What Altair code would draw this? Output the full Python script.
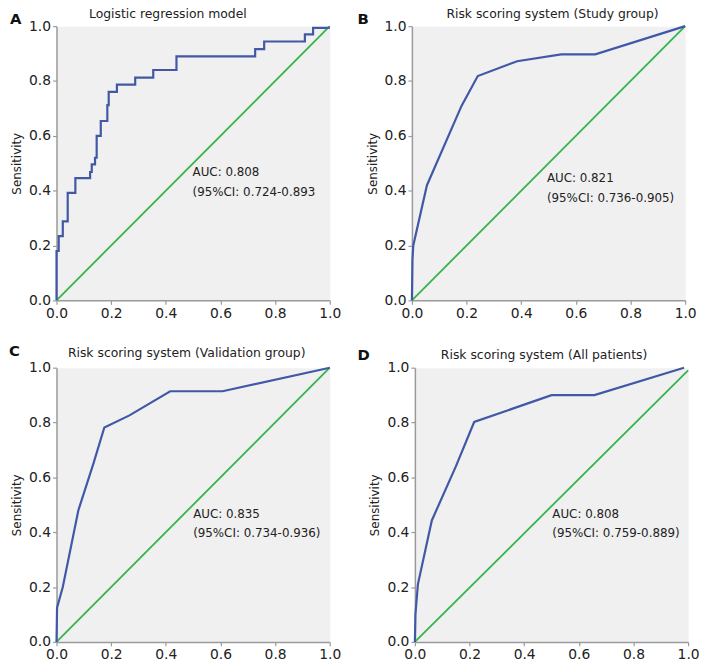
import altair as alt
import pandas as pd

# ---- data ----
a_fpr = [0.0, 0.0, 0.008, 0.023, 0.041, 0.069, 0.123, 0.129, 0.141, 0.147, 0.162, 0.186, 0.191,
         0.221, 0.288, 0.354, 0.439, 0.727, 0.760, 0.909, 0.939, 1.0]
a_tpr = [0.0, 0.180, 0.234, 0.288, 0.392, 0.446, 0.468, 0.496, 0.520, 0.600, 0.654, 0.712, 0.760,
         0.787, 0.812, 0.840, 0.890, 0.916, 0.944, 0.970, 0.994, 0.994]

b_fpr = [0.0, 0.002, 0.005, 0.055, 0.182, 0.241, 0.385, 0.546, 0.671, 1.0]
b_tpr = [0.0, 0.150, 0.200, 0.420, 0.710, 0.818, 0.872, 0.897, 0.897, 1.0]

c_fpr = [0.0, 0.002, 0.023, 0.080, 0.135, 0.175, 0.267, 0.416, 0.608, 1.0]
c_tpr = [0.0, 0.125, 0.200, 0.480, 0.650, 0.782, 0.826, 0.914, 0.914, 1.0]

d_fpr = [0.0, 0.002, 0.011, 0.062, 0.150, 0.217, 0.500, 0.657, 0.985]
d_tpr = [0.0, 0.100, 0.210, 0.443, 0.640, 0.802, 0.900, 0.900, 1.0]

diag_x = [0.0, 1.0]
diag_y = [0.0, 1.0]
diag_y_d = [0.0, 0.99]

titles = ["Logistic regression model", "Risk scoring system (Study group)",
          "Risk scoring system (Validation group)", "Risk scoring system (All patients)"]
letters = ["A", "B", "C", "D"]
auc_line1 = ["AUC: 0.808", "AUC: 0.821", "AUC: 0.835", "AUC: 0.808"]
auc_line2 = ["(95%CI: 0.724-0.893", "(95%CI: 0.736-0.905)", "(95%CI: 0.734-0.936)",
             "(95%CI: 0.759-0.889)"]
ticks = [0.0, 0.2, 0.4, 0.6, 0.8, 1.0]

BLUE = "#4058a6"
GREEN = "#34b44a"
FONT = "DejaVu Sans"
W = 276
H = 277


def panel(fpr, tpr, dx_, dy_, title, tcx, tcy, letter, lx, ly, l1, l2, tx, ty1, ty2, interp):
    roc = pd.DataFrame({"fpr": fpr, "tpr": tpr})
    diag = pd.DataFrame({"fpr": dx_, "tpr": dy_})
    xs = alt.Scale(domain=[0, 1], nice=False)
    ys = alt.Scale(domain=[0, 1], nice=False)
    xenc = alt.X("fpr:Q", scale=xs, axis=alt.Axis(values=ticks, format=".1f", title=None))
    yenc = alt.Y("tpr:Q", scale=ys, axis=alt.Axis(values=ticks, format=".1f", title="Sensitivity"))
    d_layer = alt.Chart(diag).mark_line(color=GREEN, strokeWidth=1.8).encode(x=xenc, y=yenc)
    r_layer = alt.Chart(roc).mark_line(color=BLUE, strokeWidth=2.2, interpolate=interp).encode(
        x=xenc, y=yenc, order=alt.Order("fpr:Q"))
    lab = pd.DataFrame({"t": [letter]})
    let_layer = alt.Chart(lab).mark_text(font=FONT, fontSize=15, fontWeight="bold", color="#111",
                                         align="left", baseline="middle").encode(
        x=alt.value(lx), y=alt.value(ly), text="t:N")
    ttl = pd.DataFrame({"t": [title]})
    ttl_layer = alt.Chart(ttl).mark_text(font=FONT, fontSize=12.5, color="#222", align="center",
                                         baseline="middle").encode(
        x=alt.value(tcx), y=alt.value(tcy), text="t:N")
    txt = pd.DataFrame({"t": [l1, l2], "yy": [ty1, ty2], "xx": [tx, tx]})
    t_layer = alt.Chart(txt).mark_text(font=FONT, fontSize=12, color="#222", align="left",
                                       baseline="middle").encode(
        x=alt.X("xx:Q", scale=xs), y=alt.Y("yy:Q", scale=ys), text="t:N")
    return alt.layer(d_layer, r_layer, let_layer, ttl_layer, t_layer).properties(width=W, height=H)


pA = panel(a_fpr, a_tpr, diag_x, diag_y, titles[0], 112.5, -12.5, letters[0], -47, -7,
           auc_line1[0], auc_line2[0], 0.498, 0.469, 0.396, "step-after")
pB = panel(b_fpr, b_tpr, diag_x, diag_y, titles[1], 142, -12.7, letters[1], -55, -7,
           auc_line1[1], auc_line2[1], 0.494, 0.447, 0.374, "linear")
pC = panel(c_fpr, c_tpr, diag_x, diag_y, titles[2], 131.5, -14.7, letters[2], -48, -17,
           auc_line1[2], auc_line2[2], 0.500, 0.467, 0.398, "linear")
pD = panel(d_fpr, d_tpr, diag_x, diag_y_d, titles[3], 130.5, -13, letters[3], -58, -13,
           auc_line1[3], auc_line2[3], 0.503, 0.467, 0.398, "linear")

row1 = alt.hconcat(pA, pB, spacing=15)
row2 = alt.hconcat(pC, pD, spacing=15)
chart = alt.vconcat(row1, row2, spacing=22).properties(
    padding={"top": -5, "left": 0, "right": 0, "bottom": 0}
).configure_view(
    fill="#f0f0f0", stroke="transparent"
).configure_axis(
    grid=False, domainColor="#9a9a9a", domainWidth=1.5, tickColor="#9a9a9a", tickWidth=1.2,
    tickSize=4, labelFont=FONT, labelFontSize=14, labelColor="#222", labelPadding=2,
    labelFlush=False, labelOverlap=False,
    titleFont=FONT, titleFontSize=12, titleFontWeight="normal", titleColor="#222", titlePadding=5
)

chart.save("out.html", embed_options={"renderer": "svg", "actions": False})
